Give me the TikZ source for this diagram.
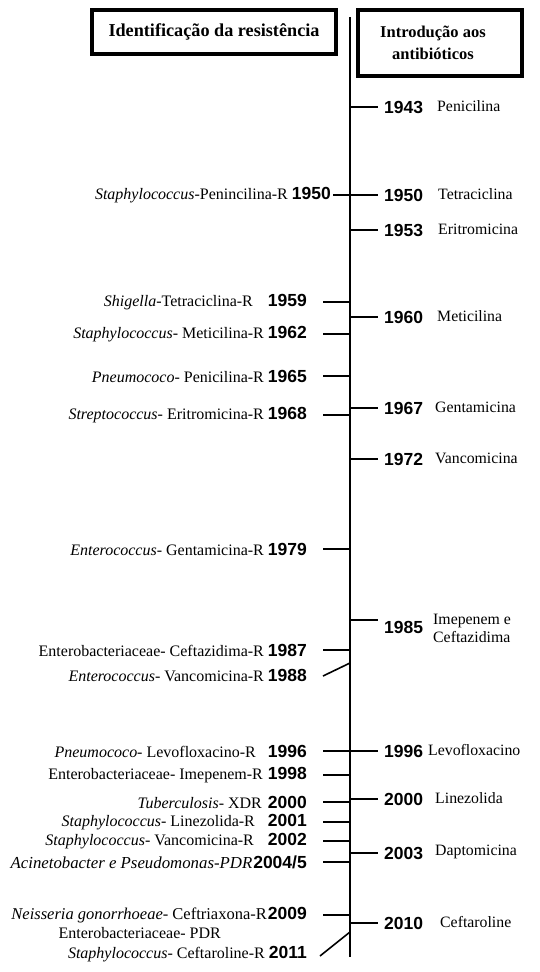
\documentclass[tikz,border=0pt]{standalone}
\usepackage{fontspec}
\setmainfont{Liberation Serif}
\newfontfamily\yearfont{Liberation Sans}
\usetikzlibrary{positioning}
\newcommand{\yrtxt}[1]{{\yearfont\bfseries\fontsize{17.5}{18}\selectfont #1}}

\begin{document}
\begin{tikzpicture}[x=1pt,y=-1pt,
    tick/.style={line width=1.6pt},
    yr/.style={font=\yearfont\bfseries\fontsize{17.5}{18}\selectfont, inner sep=0pt, anchor=west},
    drug/.style={font=\fontsize{15.8}{16}\selectfont, inner sep=0pt, anchor=west},
    res/.style={font=\fontsize{16}{17}\selectfont, inner sep=0pt, anchor=east},
    titlebox/.style={draw, line width=3.2pt, inner sep=0pt, align=center}]
\useasboundingbox (0,0) rectangle (539,972);
% titles
\node[titlebox, minimum width=244pt, minimum height=44pt, font=\bfseries\fontsize{18.2}{19}\selectfont]
    (ident) at (214,32) {Identificação da resistência};
\node[titlebox, minimum width=164pt, minimum height=66pt, font=\bfseries\fontsize{16.5}{22}\selectfont]
    (intro) at (440,43) {\hspace*{-14pt}Introdução aos\\\hspace*{-14pt}antibióticos};
% time axis
\coordinate (axtop) at (350,17);
\coordinate (axbot) at (350,957);
\draw[line width=1.8pt] (axtop) -- (axbot);
% antibiotics (right side)
\foreach \k/\y/\dx/\txt in {1943/107/437/Penicilina,1950/195/438/Tetraciclina,1953/230/438/Eritromicina,
    1960/317/437/Meticilina,1967/408/435/Gentamicina,1972/459/435/Vancomicina,
    1996/751/428/Levofloxacino,2000/799/435/Linezolida,2003/853/435/Daptomicina,2010/923/440/Ceftaroline}{
  \node[yr] (r\k) at (384,\y) {\k};
  \node[drug] (d\k) at (\dx,\y-1) {\txt};
  \draw[tick] (r\k.west -| axbot) -- ([xshift=-6pt]r\k.west);
}
\node[yr] (r1985) at (384,627) {1985};
\node[drug, align=left, font=\fontsize{15.8}{18}\selectfont] (d1985) at (433,628) {Imepenem e\\Ceftazidima};
\coordinate (t1985) at (378,620);
\draw[tick] (t1985 -| axbot) -- (t1985);
% resistance (left side)
\node[res] (l1950) at (331,195) {\textit{Staphylococcus}-Penincilina-R \yrtxt{1950}};
\draw[tick] ([xshift=2pt]l1950.east) -- (l1950.east -| axbot);
\foreach \k/\yy/\y/\gap/\txt in {1959/1959/302/15/{\textit{Shigella}-Tetraciclina-R},
    1962/1962/334/4/{\textit{Staphylococcus}- Meticilina-R},
    1965/1965/376/4/{\textit{Pneumococo}- Penicilina-R},
    1968/1968/415/4/{\textit{Streptococcus}- Eritromicina-R},
    1979/1979/549/4/{\textit{Enterococcus}- Gentamicina-R},
    1987/1987/650/4/{Enterobacteriaceae- Ceftazidima-R},
    1996/1996/751/12/{\textit{Pneumococo}- Levofloxacino-R},
    1998/1998/775/5/{Enterobacteriaceae- Imepenem-R},
    2000/2000/802/6/{\textit{Tuberculosis}- XDR},
    2001/2001/822/13/{\textit{Staphylococcus}- Linezolida-R},
    2002/2002/841/14/{\textit{Staphylococcus}- Vancomicina-R},
    2004/2004\slash 5/862/1/{\fontsize{16.8}{18}\selectfont\textit{Acinetobacter e Pseudomonas-PDR}},
    2009/2009/915/1/{\fontsize{16.5}{18}\selectfont\textit{Neisseria gonorrhoeae}- Ceftriaxona-R}}{
  \node[res] (l\k) at (307,\y) {\txt\hspace{\gap pt}\yrtxt{\yy}};
  \draw[tick] ([xshift=16pt]l\k.east) -- (l\k.east -| axbot);
}
\node[res] (l1988) at (307,676) {\textit{Enterococcus}- Vancomicina-R \yrtxt{1988}};
\coordinate (t1988) at (350,663);
\draw[tick] ([xshift=16pt]l1988.east) -- (t1988);
\node[res] (lpdr) at (221,933) {Enterobacteriaceae- PDR};
\node[res] (l2011) at (307,954) {\textit{Staphylococcus}- Ceftaroline-R \yrtxt{2011}};
\coordinate (t2011) at (350,932);
\draw[tick] ([xshift=13pt,yshift=-2pt]l2011.east) -- (t2011);
\end{tikzpicture}
\end{document}
